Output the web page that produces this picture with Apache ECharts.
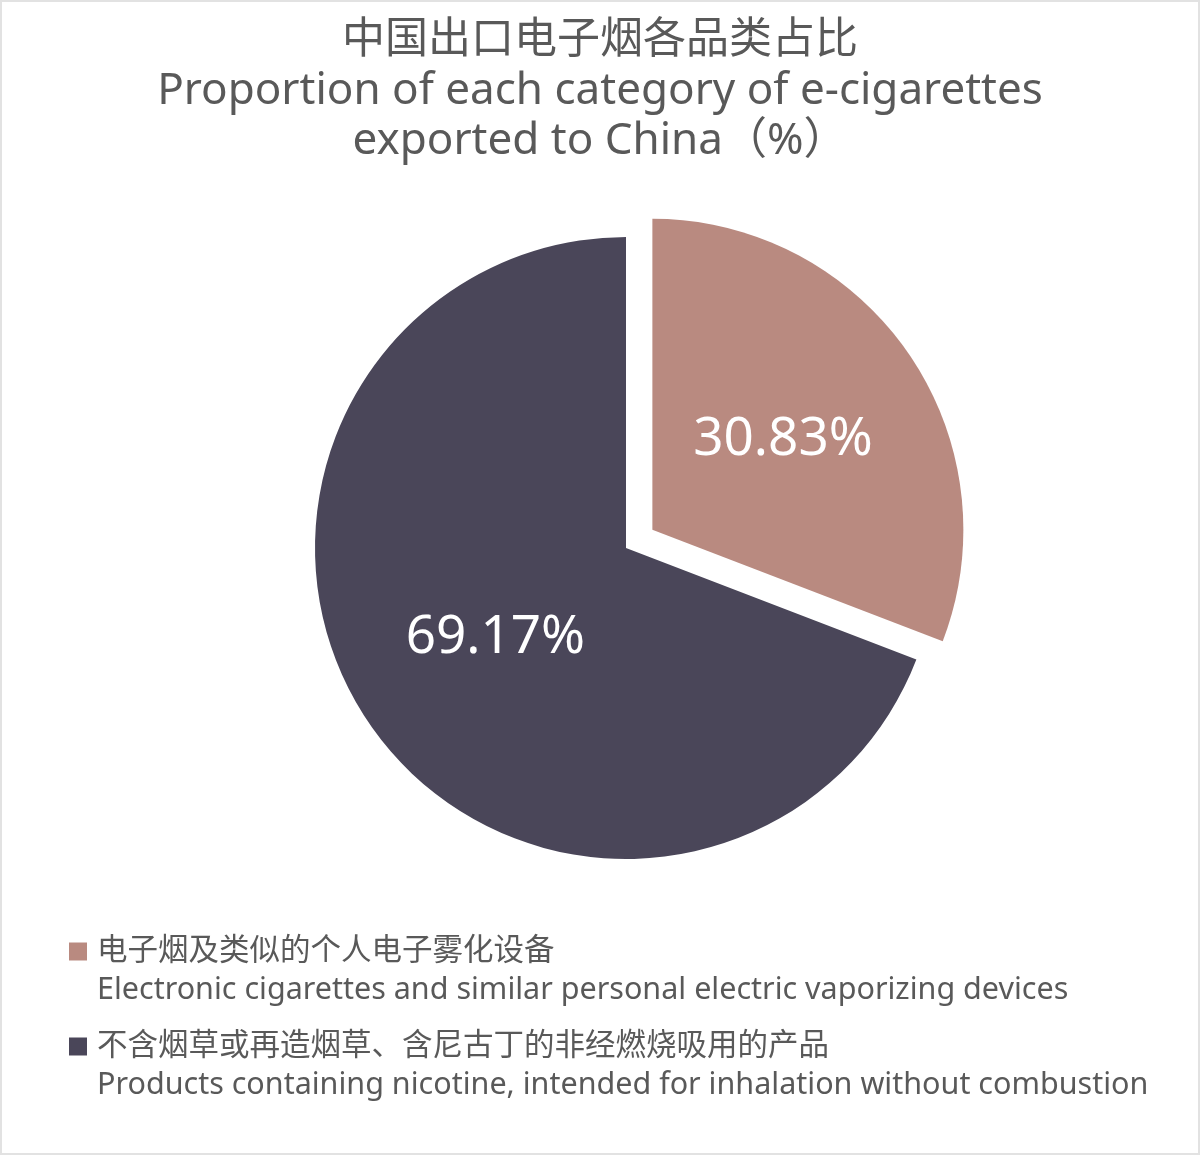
<!DOCTYPE html>
<html>
<head>
<meta charset="utf-8">
<script src="https://cdn.jsdelivr.net/npm/echarts@6/dist/echarts.min.js"></script>
<style>
  html, body { margin: 0; padding: 0; background: #fff; }
  #chart { width: 1200px; height: 1155px; box-sizing: border-box; border: 2px solid #e2e2e2; }
</style>
</head>
<body>
<div id="chart"></div>
<script>
const titleZh = '中国出口电子烟各品类占比';
const titleEnLines = ['Proportion of each category of e-cigarettes', 'exported to China（%）'];
const categoriesZh = ['电子烟及类似的个人电子雾化设备', '不含烟草或再造烟草、含尼古丁的非经燃烧吸用的产品'];
const categoriesEn = ['Electronic cigarettes and similar personal electric vaporizing devices', 'Products containing nicotine, intended for inhalation without combustion'];
const values = [30.83, 69.17];
const colors = ['#B98A80', '#4A4659'];

const FONT = "'Noto Sans', 'Noto Sans CJK SC', sans-serif";
const chart = echarts.init(document.getElementById('chart'));

const enByZh = {};
categoriesZh.forEach((z, i) => { enByZh[z] = categoriesEn[i]; });

chart.setOption({
  animation: false,
  color: colors,
  title: {
    text: ['{zh|' + titleZh + '}'].concat(titleEnLines.map(t => '{en|' + t + '}')).join('\n'),
    left: 'center',
    top: 9,
    textStyle: {
      fontFamily: FONT, fontWeight: 'normal', color: '#595959', align: 'center',
      rich: {
        zh: { fontFamily: FONT, fontSize: 43, color: '#595959', lineHeight: 50, align: 'center' },
        en: { fontFamily: FONT, fontSize: 44, color: '#595959', lineHeight: 50, align: 'center' }
      }
    }
  },
  legend: {
    orient: 'vertical',
    left: 67,
    top: 891,
    padding: 0,
    itemGap: -22,
    icon: 'rect',
    itemWidth: 18,
    itemHeight: 18,
    selectedMode: false,
    data: categoriesZh,
    formatter: name => '\n' + name + '\n' + enByZh[name],
    textStyle: { fontFamily: FONT, fontSize: 30.5, color: '#595959', lineHeight: 39, padding: [0, 0, 0, 5] }
  },
  series: [{
    type: 'pie',
    center: [624, 546],
    radius: [0, 311],
    startAngle: 90,
    clockwise: true,
    selectedMode: 'single',
    selectedOffset: 32,
    emphasis: { disabled: true },
    label: {
      show: true,
      position: 'inside',
      formatter: p => p.value.toFixed(2) + '%',
      color: '#fff',
      fontFamily: FONT,
      fontSize: 53,
      fontWeight: 'normal'
    },
    labelLine: { show: false },
    data: categoriesZh.map((name, i) => ({ name, value: values[i], selected: i === 0 }))
  }]
});
</script>
</body>
</html>
